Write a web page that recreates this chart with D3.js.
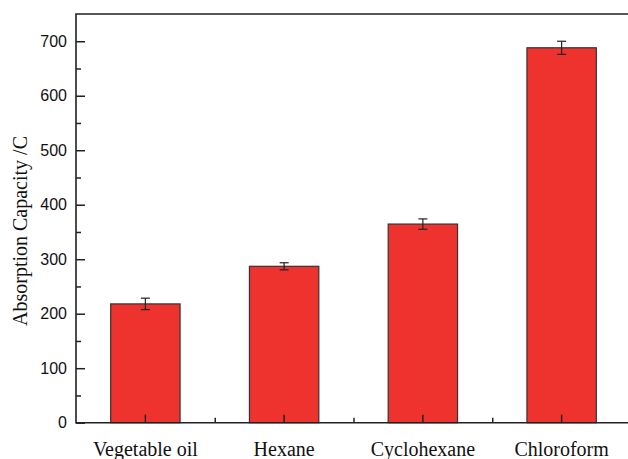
<!DOCTYPE html>
<html lang="en">
<head>
<meta charset="UTF-8">
<title>Absorption Capacity</title>
<script src="https://d3js.org/d3.v7.min.js"></script>
<style>
    body, html { margin: 0; padding: 0; background: #fff; }
    svg { display: block; }
    .ytick text { font-family: Arial, "Liberation Sans", sans-serif; font-size: 16px; fill: #111; }
    .xtick text { font-family: "Times New Roman", "Liberation Serif", serif; font-size: 20px; fill: #111; }
    .title { font-family: "Times New Roman", "Liberation Serif", serif; font-size: 20px; fill: #111; }
    .domain { display: none; }
    .tick line { stroke: #222; stroke-width: 1.5px; }
</style>
</head>
<body>
<div id="chart"></div>
<script>
const solvents = ["Vegetable oil", "Hexane", "Cyclohexane", "Chloroform"];
const capacity = [218, 287, 364.5, 688];
const errors = [10.5, 6.5, 9.5, 12];
const yMajor = [0, 100, 200, 300, 400, 500, 600, 700];
const yMinor = [50, 150, 250, 350, 450, 550, 650];

const width = 628, height = 459;
const margin = { left: 76, right: 631, top: 14, bottom: 422.7 };

const svg = d3.select("#chart").append("svg")
    .attr("width", width)
    .attr("height", height);

const x = d3.scaleBand().domain(solvents).range([margin.left, margin.right]).padding(0);
const y = d3.scaleLinear().domain([0, 750]).range([margin.bottom, margin.top]);

const data = solvents.map((s, i) => ({ name: s, value: capacity[i], err: errors[i] }));

// bars
svg.selectAll(".bar")
    .data(data)
    .enter().append("rect")
    .attr("class", "bar")
    .attr("x", d => x(d.name) + x.bandwidth() * 0.25)
    .attr("width", x.bandwidth() * 0.5)
    .attr("y", d => y(d.value))
    .attr("height", d => y(0) - y(d.value))
    .attr("fill", "#ee332e")
    .attr("stroke", "#333")
    .attr("stroke-width", 1.2);

// error bars
const eb = svg.selectAll(".err")
    .data(data)
    .enter().append("g")
    .attr("class", "err")
    .attr("stroke", "#222")
    .attr("stroke-width", 1.2);
const cx = d => x(d.name) + x.bandwidth() / 2;
eb.append("line")
    .attr("x1", cx).attr("x2", cx)
    .attr("y1", d => y(d.value + d.err)).attr("y2", d => y(d.value - d.err));
eb.append("line")
    .attr("x1", d => cx(d) - 4.5).attr("x2", d => cx(d) + 4.5)
    .attr("y1", d => y(d.value + d.err)).attr("y2", d => y(d.value + d.err));
eb.append("line")
    .attr("x1", d => cx(d) - 4.5).attr("x2", d => cx(d) + 4.5)
    .attr("y1", d => y(d.value - d.err)).attr("y2", d => y(d.value - d.err));

// y axis
svg.append("g")
    .attr("class", "ytick")
    .attr("transform", `translate(${margin.left},0)`)
    .call(d3.axisLeft(y).tickValues(yMajor).tickSize(-9).tickPadding(9));
svg.append("g")
    .attr("class", "ytick")
    .attr("transform", `translate(${margin.left},0)`)
    .call(d3.axisLeft(y).tickValues(yMinor).tickSize(-5).tickFormat(""));

// x axis: ticks at bar centres and between bars
svg.append("g")
    .attr("class", "xtick")
    .attr("transform", `translate(0,${margin.bottom})`)
    .call(d3.axisBottom(x).tickSize(-8).tickPadding(19));
const xb = d3.scaleLinear().domain([0, 4]).range([margin.left, margin.right]);
svg.append("g")
    .attr("class", "xtick")
    .attr("transform", `translate(0,${margin.bottom})`)
    .call(d3.axisBottom(xb).tickValues([1, 2, 3]).tickSize(-5).tickFormat(""));

// frame
svg.append("path")
    .attr("d", `M${margin.right},${margin.top}H${margin.left}V${margin.bottom}H${margin.right}`)
    .attr("fill", "none")
    .attr("stroke", "#222")
    .attr("stroke-width", 1.6);

// y title
svg.append("text")
    .attr("class", "title")
    .attr("transform", "translate(27,231) rotate(-90)")
    .attr("text-anchor", "middle")
    .text("Absorption Capacity /C");
</script>
</body>
</html>
